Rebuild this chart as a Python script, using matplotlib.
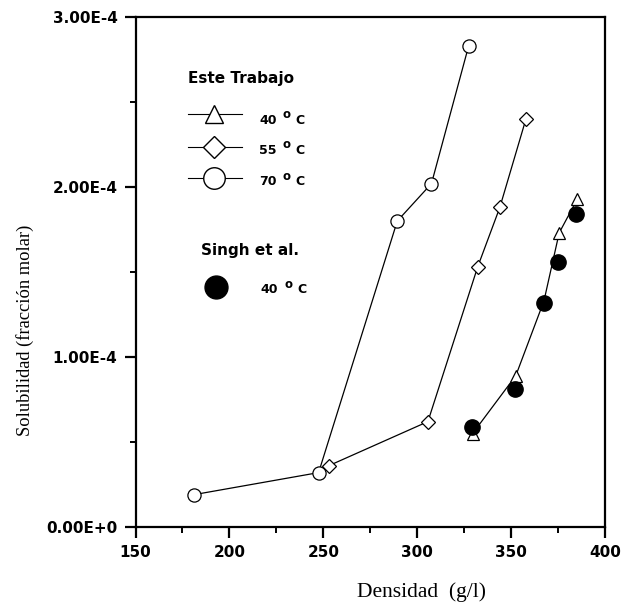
import matplotlib
matplotlib.use("Agg")
import matplotlib.pyplot as plt
from matplotlib.ticker import MultipleLocator, FixedLocator

# ---- data ----
dens_40 = [329.5, 352.5, 367.5, 375.6, 385.3]
sol_40 = [0.55e-4, 0.89e-4, 1.33e-4, 1.73e-4, 1.93e-4]

dens_55 = [252.8, 305.7, 332.2, 344.0, 357.9]
sol_55 = [0.36e-4, 0.62e-4, 1.53e-4, 1.88e-4, 2.40e-4]

dens_70 = [181.0, 247.5, 289.4, 307.6, 327.4]
sol_70 = [0.19e-4, 0.32e-4, 1.80e-4, 2.02e-4, 2.83e-4]

dens_singh = [329.3, 352.3, 367.5, 374.9, 384.8]
sol_singh = [0.59e-4, 0.81e-4, 1.32e-4, 1.56e-4, 1.84e-4]

xticks = [150, 200, 250, 300, 350, 400]
yticks = [0.0, 1e-4, 2e-4, 3e-4]
ytick_labels = ["0.00E+0", "1.00E-4", "2.00E-4", "3.00E-4"]

legend_title1 = "Este Trabajo"
legend_title2 = "Singh et al."
legend_temps = ["40", "55", "70"]

# ---- figure ----
W, H = 625, 603
fig = plt.figure(figsize=(W / 100, H / 100), dpi=100)
L, R, T, B = 135.5, 605, 17, 527
ax = fig.add_axes([L / W, 1 - B / H, (R - L) / W, (B - T) / H])

lw = 0.9
ax.plot(dens_70, sol_70, '-', color='black', lw=lw, marker='o', ms=9.5,
        mfc='white', mec='black', mew=0.9, zorder=3)
ax.plot(dens_55, sol_55, '-', color='black', lw=lw, marker='D', ms=7.5,
        mfc='white', mec='black', mew=0.9, zorder=3)
ax.plot(dens_40, sol_40, '-', color='black', lw=lw, marker='^', ms=8.5,
        mfc='white', mec='black', mew=0.9, zorder=3)
ax.plot(dens_singh, sol_singh, 'o', color='black', ms=11, zorder=4, lw=0)

ax.set_xlim(150, 400)
ax.set_ylim(0, 3e-4)
ax.xaxis.set_major_locator(FixedLocator(xticks))
ax.xaxis.set_minor_locator(MultipleLocator(25))
ax.yaxis.set_major_locator(FixedLocator(yticks))
ax.yaxis.set_minor_locator(MultipleLocator(0.5e-4))
ax.set_xticklabels([str(v) for v in xticks])
ax.set_yticklabels(ytick_labels)

for lab in ax.get_xticklabels() + ax.get_yticklabels():
    lab.set_fontfamily('DejaVu Sans')
    lab.set_fontweight('bold')
    lab.set_fontsize(11)

ax.tick_params(which='major', direction='out', length=8, width=1.6, pad=5)
ax.tick_params(which='minor', direction='out', length=4, width=1.4)
for s in ax.spines.values():
    s.set_linewidth(1.6)

ax.text(0.61, -0.128, "Densidad  (g/l)", transform=ax.transAxes,
        ha='center', va='center', family='Liberation Serif', fontsize=15.5)
ax.text(-0.235, 0.385, "Solubilidad (fracción molar)", transform=ax.transAxes,
        ha='center', va='center', rotation=90, family='Liberation Serif',
        fontsize=13.3)

# ---- custom legend ----
lf = dict(family='DejaVu Sans', weight='bold', transform=ax.transAxes)
ax.text(0.112, 0.880, legend_title1, ha='left', va='center', fontsize=11, **lf)

rows_y = [0.809, 0.745, 0.684]
label_y = [0.798, 0.739, 0.677]
markers = [('^', 13), ('D', 11), ('o', 15.5)]
for (m, ms), yl, yt, t in zip(markers, rows_y, label_y, legend_temps):
    ax.plot([0.112, 0.226], [yl, yl], '-', color='black', lw=0.8,
            transform=ax.transAxes, clip_on=False)
    ax.plot([0.167], [yl], marker=m, ms=ms, mfc='white', mec='black',
            mew=1.0, transform=ax.transAxes, clip_on=False, lw=0)
    ax.text(0.263, yt, t, ha='left', va='center', fontsize=9, **lf)
    ax.text(0.313, yt + 0.011, "o", ha='left', va='center', fontsize=8.5, **lf)
    ax.text(0.340, yt, "C", ha='left', va='center', fontsize=9, **lf)

ax.text(0.140, 0.542, legend_title2, ha='left', va='center', fontsize=11, **lf)
ax.plot([0.172], [0.471], 'o', color='black', ms=16.5,
        transform=ax.transAxes, clip_on=False)
yt = 0.465
ax.text(0.267, yt, "40", ha='left', va='center', fontsize=9, **lf)
ax.text(0.317, yt + 0.011, "o", ha='left', va='center', fontsize=8.5, **lf)
ax.text(0.344, yt, "C", ha='left', va='center', fontsize=9, **lf)

fig.savefig("out.png", dpi=100)
